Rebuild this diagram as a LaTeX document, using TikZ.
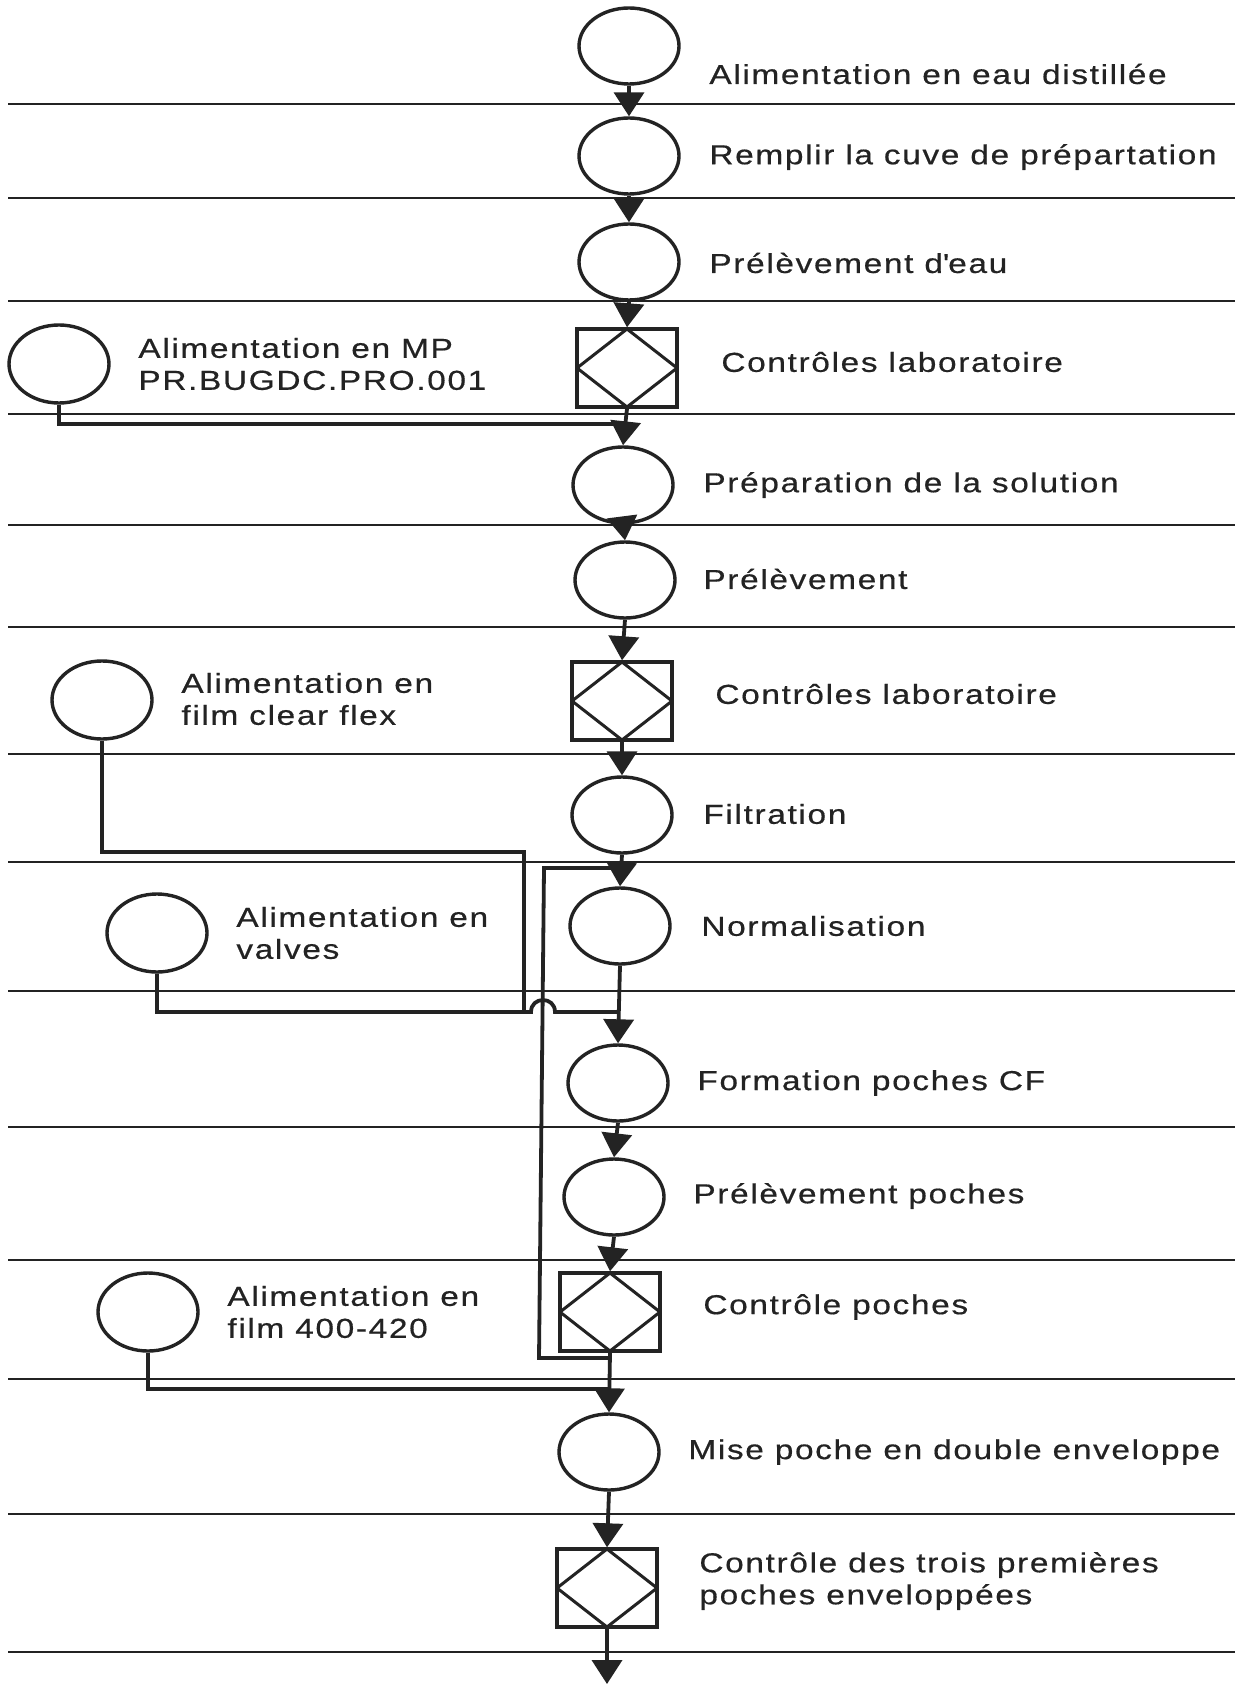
\documentclass[tikz,border=0pt]{standalone}
\usepackage{fontspec}
\setmainfont{Liberation Sans}
\newfontfamily\diafont[FakeStretch=1.22,LetterSpace=6,FakeBold=0.5]{Liberation Sans}
\usetikzlibrary{shapes.geometric,arrows.meta}
\definecolor{ink}{RGB}{35,35,35}
\begin{document}
\begin{tikzpicture}[x=0.5pt,y=-0.5pt,
  op/.style={ellipse, draw=ink, line width=1.7pt, minimum width=50pt, minimum height=38pt, inner sep=0pt},
  feed/.style={op, minimum height=39pt},
  ctl/.style={rectangle, draw=ink, line width=1.7pt, minimum width=50pt, minimum height=39pt, inner sep=0pt,
    path picture={\draw[ink,line width=1.5pt] (path picture bounding box.north) -- (path picture bounding box.east)
      -- (path picture bounding box.south) -- (path picture bounding box.west) -- cycle;}},
  lbl/.style={anchor=west, inner sep=0pt, align=left, text=ink, font=\diafont\fontsize{13.7}{16}\selectfont},
  flow/.style={draw=ink, line width=1.9pt},
  arr/.style={flow, -{Triangle[width=15pt,length=12pt]}},
  rule/.style={draw=ink, line width=1.3pt}]

% page frame
\useasboundingbox (0,0) rectangle (1235,1684);
\fill[white] (0,0) rectangle (1235,1684);

% lane separators
\foreach \yy in {104,198,301,414,525,627,754,862,991,1127,1260,1379,1514,1652}
  \draw[rule] (8,\yy) -- (1235,\yy);

% main sequence
\node[op]  (c1)  at (629,46)   {};
\node[op]  (c2)  at (629,156)  {};
\node[op]  (c3)  at (629,262)  {};
\node[ctl] (b1)  at (627,368)  {};
\node[op]  (c5)  at (623,485)  {};
\node[op]  (c6)  at (625,580)  {};
\node[ctl] (b2)  at (622,701)  {};
\node[op]  (c8)  at (622,815)  {};
\node[op]  (c9)  at (620,926)  {};
\node[op]  (c10) at (618,1083) {};
\node[op]  (c11) at (614,1197) {};
\node[ctl] (b3)  at (610,1312) {};
\node[op]  (c13) at (609,1452) {};
\node[ctl] (b4)  at (607,1588) {};

% supplies
\node[feed] (m1) at (59,364)   {};
\node[feed] (m2) at (102,700)  {};
\node[feed] (m3) at (157,933)  {};
\node[feed] (m4) at (148,1312) {};

% labels
\node[lbl] (t1)  at (709,74)   {Alimentation en eau distillée};
\node[lbl] (t2)  at (709,157)  {Remplir la cuve de prépartation};
\node[lbl] (t3)  at (709,263)  {Prélèvement d\textquotesingle eau};
\node[lbl] (t4)  at (721,362)  {Contrôles laboratoire};
\node[lbl] (t5)  at (703,485)  {Préparation de la solution};
\node[lbl] (t6)  at (703,579)  {Prélèvement};
\node[lbl] (t7)  at (715,694)  {Contrôles laboratoire};
\node[lbl] (t8)  at (703,814)  {Filtration};
\node[lbl] (t9)  at (701,926)  {Normalisation};
\node[lbl] (t10) at (697,1083) {Formation poches CF};
\node[lbl] (t11) at (693,1196) {Prélèvement poches};
\node[lbl] (t12) at (703,1307) {Contrôle poches};
\node[lbl] (t13) at (688,1452) {Mise poche en double enveloppe};
\node[lbl] (t14) at (699,1581) {Contrôle des trois premières\\poches enveloppées};
\node[lbl] (tm1) at (138,364)  {Alimentation en MP\\PR.BUGDC.PRO.001};
\node[lbl] (tm2) at (181,699)  {Alimentation en\\film clear flex};
\node[lbl] (tm3) at (236,933)  {Alimentation en\\valves};
\node[lbl] (tm4) at (227,1312) {Alimentation en\\film 400-420};

% junction points
\coordinate (j1) at (626,424);
\coordinate (k1) at (524,852);
\coordinate (k2) at (524,1012);
\coordinate (h1) at (531,1012);
\coordinate (h2) at (555,1012);
\coordinate (j3) at (618,1012);
\coordinate (l1) at (621,868);
\coordinate (l2) at (544,868);
\coordinate (l3) at (539,1358);
\coordinate (l4) at (610,1358);
\coordinate (j4) at (608,1389);
\coordinate (e)  at (607,1684);

% main flow
\draw[arr] (c1.south) -- (c2.north);
\draw[arr] (c2.south) -- (c3.north);
\draw[arr] (c3.south) -- (b1.north);
\draw[arr] (b1.south) -- (c5.north);
\draw[arr] (c5.south) -- (c6.north);
\draw[arr] (c6.south) -- (b2.north);
\draw[arr] (b2.south) -- (c8.north);
\draw[arr] (c8.south) -- (c9.north);
\draw[arr] (c9.south) -- (c10.north);
\draw[arr] (c10.south) -- (c11.north);
\draw[arr] (c11.south) -- (b3.north);
\draw[arr] (b3.south) -- (c13.north);
\draw[arr] (c13.south) -- (b4.north);
\draw[arr] (b4.south) -- (e);

% supply feeds
\draw[flow] (m1.south) |- (j1);
\draw[flow] (m2.south) |- (k1) -- (k2);
\draw[flow] (m3.south) |- (h1) .. controls (531,996) and (555,996) .. (h2) -- (j3);
\draw[flow] (l1) -- (l2) -- (l3) -- (l4);
\draw[flow] (m4.south) |- (j4);
\end{tikzpicture}
\end{document}
